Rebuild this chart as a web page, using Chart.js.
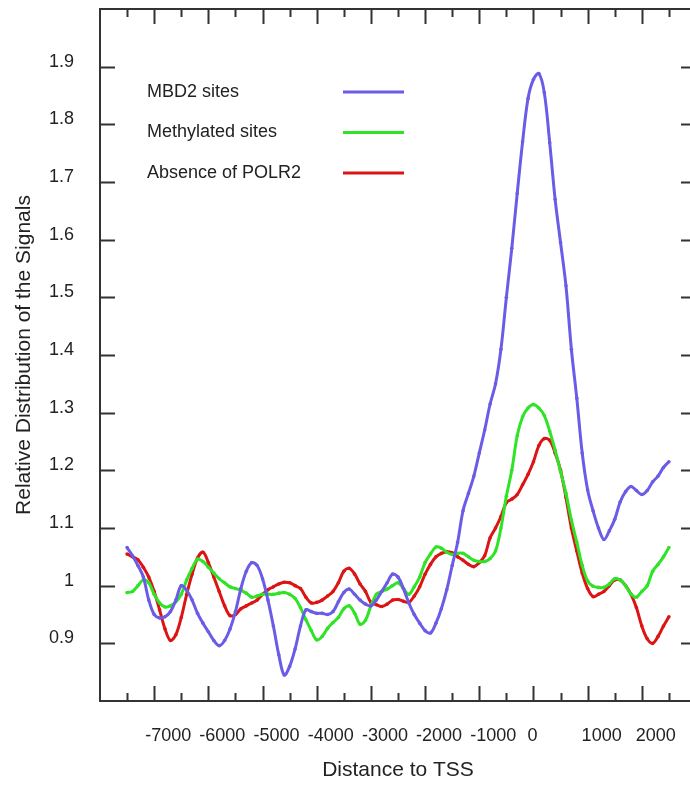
<!DOCTYPE html>
<html>
<head>
<meta charset="utf-8">
<title>Relative Distribution of the Signals</title>
<script src="https://cdn.jsdelivr.net/npm/chart.js@4"></script>
<style>
  html, body { margin: 0; padding: 0; background: #fff; overflow: hidden; }
  #wrap { width: 700px; height: 785px; }
</style>
</head>
<body>
<div id="wrap"><canvas id="tssChart" width="700" height="785"></canvas></div>
<script>
// distance to TSS (bp), one reading every 100 bp
const distance = [
  -7500, -7400, -7300, -7200, -7100, -7000, -6900, -6800, -6700, -6600,
  -6500, -6400, -6300, -6200, -6100, -6000, -5900, -5800, -5700, -5600,
  -5500, -5400, -5300, -5200, -5100, -5000, -4900, -4800, -4700, -4600,
  -4500, -4400, -4300, -4200, -4100, -4000, -3900, -3800, -3700, -3600,
  -3500, -3400, -3300, -3200, -3100, -3000, -2900, -2800, -2700, -2600,
  -2500, -2400, -2300, -2200, -2100, -2000, -1900, -1800, -1700, -1600,
  -1500, -1400, -1300, -1200, -1100, -1000, -900, -800, -700, -600,
  -500, -400, -300, -200, -100, 0, 100, 200, 300, 400,
  500, 600, 700, 800, 900, 1000, 1100, 1200, 1300, 1400,
  1500, 1600, 1700, 1800, 1900, 2000, 2100, 2200, 2300, 2400,
  2500
];

const mbd2Sites = [
  1.066, 1.052, 1.035, 1.015, 0.975, 0.950, 0.944, 0.946, 0.955, 0.975,
  1.000, 0.992, 0.975, 0.952, 0.935, 0.920, 0.905, 0.896, 0.905, 0.925,
  0.955, 0.995, 1.025, 1.040, 1.035, 1.012, 0.975, 0.930, 0.880, 0.845,
  0.860, 0.890, 0.930, 0.958, 0.955, 0.952, 0.952, 0.950, 0.955, 0.972,
  0.988, 0.994, 0.985, 0.975, 0.968, 0.965, 0.975, 0.990, 1.005, 1.020,
  1.015, 0.995, 0.970, 0.950, 0.935, 0.922, 0.918, 0.935, 0.960, 0.993,
  1.035, 1.075, 1.130, 1.160, 1.190, 1.230, 1.270, 1.315, 1.350, 1.410,
  1.500, 1.585, 1.680, 1.770, 1.845, 1.878, 1.888, 1.855, 1.768, 1.670,
  1.595, 1.520, 1.410, 1.325, 1.230, 1.166, 1.130, 1.100, 1.080, 1.095,
  1.115, 1.145, 1.163, 1.172, 1.165, 1.158, 1.165, 1.180, 1.190, 1.205,
  1.215
];

const methylatedSites = [
  0.988, 0.990, 1.000, 1.010, 1.005, 0.985, 0.970, 0.963, 0.965, 0.972,
  0.985, 1.010, 1.030, 1.046, 1.042, 1.032, 1.022, 1.012, 1.005, 0.998,
  0.995, 0.992, 0.987, 0.980, 0.982, 0.985, 0.985, 0.985, 0.987, 0.988,
  0.985, 0.978, 0.962, 0.941, 0.922, 0.906, 0.912, 0.926, 0.936, 0.945,
  0.960, 0.965, 0.952, 0.933, 0.940, 0.965, 0.985, 0.990, 0.994, 1.000,
  1.005, 0.995, 0.985, 0.998, 1.015, 1.040, 1.055, 1.067, 1.065, 1.058,
  1.054, 1.056, 1.056, 1.050, 1.044, 1.042, 1.042, 1.047, 1.060, 1.100,
  1.155, 1.200, 1.260, 1.293, 1.308, 1.314, 1.308, 1.295, 1.268, 1.235,
  1.198, 1.160, 1.114, 1.075, 1.035, 1.008, 0.999, 0.997, 0.997, 1.003,
  1.012, 1.010, 1.000, 0.985, 0.980, 0.990, 1.000, 1.025, 1.037, 1.050,
  1.066
];

const absencePolr2 = [
  1.055, 1.050, 1.045, 1.032, 1.015, 0.990, 0.958, 0.925, 0.905, 0.915,
  0.945, 0.985, 1.020, 1.048, 1.058, 1.040, 1.015, 0.990, 0.965, 0.948,
  0.950, 0.960, 0.965, 0.970, 0.975, 0.985, 0.993, 0.998, 1.003, 1.006,
  1.005, 1.000, 0.995, 0.980, 0.970, 0.971, 0.975, 0.982, 0.990, 1.005,
  1.025, 1.030, 1.020, 1.003, 0.990, 0.971, 0.967, 0.964, 0.968, 0.975,
  0.976, 0.973, 0.971, 0.982, 0.998, 1.020, 1.037, 1.050, 1.056, 1.059,
  1.057, 1.050, 1.044, 1.037, 1.033, 1.040, 1.052, 1.083, 1.100, 1.120,
  1.144, 1.150, 1.158, 1.175, 1.193, 1.215, 1.243, 1.255, 1.252, 1.230,
  1.200, 1.153, 1.100, 1.060, 1.022, 0.995, 0.981, 0.985, 0.990, 1.000,
  1.010, 1.010, 1.000, 0.985, 0.962, 0.930, 0.908, 0.900, 0.912, 0.930,
  0.946
];

const xTickLabels = [-7000, -6000, -5000, -4000, -3000, -2000, -1000, 0, 1000, 2000];
const yTickLabels = [0.9, 1.0, 1.1, 1.2, 1.3, 1.4, 1.5, 1.6, 1.7, 1.8, 1.9];

const FONT = "'Liberation Sans', Arial, sans-serif";
const TEXT = '#222';
const AXIS = '#333';

function series(values) {
  return distance.map((d, i) => ({ x: d, y: values[i] }));
}

// keep chart.js from reserving extra room for edge labels
function noEdgePadding(scale) {
  scale.paddingTop = 0;
  scale.paddingBottom = 0;
  scale.paddingLeft = 0;
  scale.paddingRight = 0;
}

// box round the plot, with short ticks pointing inward on all four sides
const frameTicks = {
  id: 'frameTicks',
  afterDraw(chart) {
    const { ctx, chartArea: a, scales } = chart;
    ctx.save();
    ctx.strokeStyle = AXIS;
    ctx.lineWidth = 2;
    ctx.strokeRect(a.left, a.top, a.right - a.left, a.bottom - a.top);
    ctx.beginPath();
    for (let v = -7500; v <= 2500; v += 500) {
      const x = Math.round(scales.x.getPixelForValue(v)) + 0.5;
      const len = v % 1000 === 0 ? 15 : 8;
      ctx.moveTo(x, a.top); ctx.lineTo(x, a.top + len);
      ctx.moveTo(x, a.bottom); ctx.lineTo(x, a.bottom - len);
    }
    yTickLabels.forEach(v => {
      const y = Math.round(scales.y.getPixelForValue(v)) + 0.5;
      ctx.moveTo(a.left, y); ctx.lineTo(a.left + 15, y);
      ctx.moveTo(a.right, y); ctx.lineTo(a.right - 15, y);
    });
    ctx.stroke();
    ctx.restore();
  }
};

// legend inside the plot: label on the left, line sample on the right
const innerLegend = {
  id: 'innerLegend',
  afterDraw(chart) {
    const { ctx } = chart;
    ctx.save();
    ctx.font = '18px ' + FONT;
    ctx.textBaseline = 'middle';
    ctx.fillStyle = TEXT;
    chart.data.datasets.forEach((ds, i) => {
      const y = 92 + i * 40.5;
      ctx.fillText(ds.label, 147, y);
      ctx.strokeStyle = ds.borderColor;
      ctx.lineWidth = 3;
      ctx.beginPath();
      ctx.moveTo(343, y);
      ctx.lineTo(404, y);
      ctx.stroke();
    });
    ctx.restore();
  }
};

function lineSet(label, values, color) {
  return {
    label: label,
    data: series(values),
    borderColor: color,
    backgroundColor: color,
    borderWidth: 3,
    pointRadius: 1.8,
    pointBorderWidth: 0,
    pointBackgroundColor: color,
    tension: 0.35,
    fill: false
  };
}

const ctx = document.getElementById('tssChart').getContext('2d');
const tssChart = new Chart(ctx, {
  type: 'line',
  data: {
    datasets: [
      lineSet('MBD2 sites', mbd2Sites, '#6a5ce6'),
      lineSet('Methylated sites', methylatedSites, '#2fe326'),
      lineSet('Absence of POLR2', absencePolr2, '#dd1414')
    ]
  },
  options: {
    responsive: false,
    animation: false,
    layout: { padding: { top: 9, right: 3, left: 0, bottom: 0 } },
    plugins: {
      legend: { display: false },
      tooltip: { enabled: false }
    },
    scales: {
      x: {
        type: 'linear',
        min: -8000,
        max: 3000,
        grid: { display: false },
        border: { display: false },
        afterFit: scale => { scale.height = 84; noEdgePadding(scale); },
        title: {
          display: true,
          text: 'Distance to TSS',
          color: TEXT,
          font: { family: FONT, size: 21 },
          padding: { top: 0, bottom: 2 }
        },
        ticks: {
          stepSize: 1000,
          autoSkip: false,
          maxRotation: 0,
          padding: 16,
          labelOffset: 14,
          color: TEXT,
          font: { family: FONT, size: 18 },
          // the 0 label sits right on its tick, the others a bit to the right
          callback: v => xTickLabels.includes(v) ? (v === 0 ? '0      ' : String(v)) : ''
        }
      },
      y: {
        min: 0.8,
        max: 2.0,
        grid: { display: false },
        border: { display: false },
        afterFit: scale => { scale.width = 100; noEdgePadding(scale); },
        title: {
          display: true,
          text: 'Relative Distribution of the Signals',
          color: TEXT,
          font: { family: FONT, size: 21 },
          padding: { top: 12, bottom: 0 }
        },
        ticks: {
          stepSize: 0.1,
          padding: 18,
          labelOffset: -5,
          color: TEXT,
          font: { family: FONT, size: 18 },
          callback: v => yTickLabels.some(t => Math.abs(t - v) < 1e-6) ? String(Number(v.toFixed(1))) : ''
        }
      }
    }
  },
  plugins: [frameTicks, innerLegend]
});
</script>
</body>
</html>
